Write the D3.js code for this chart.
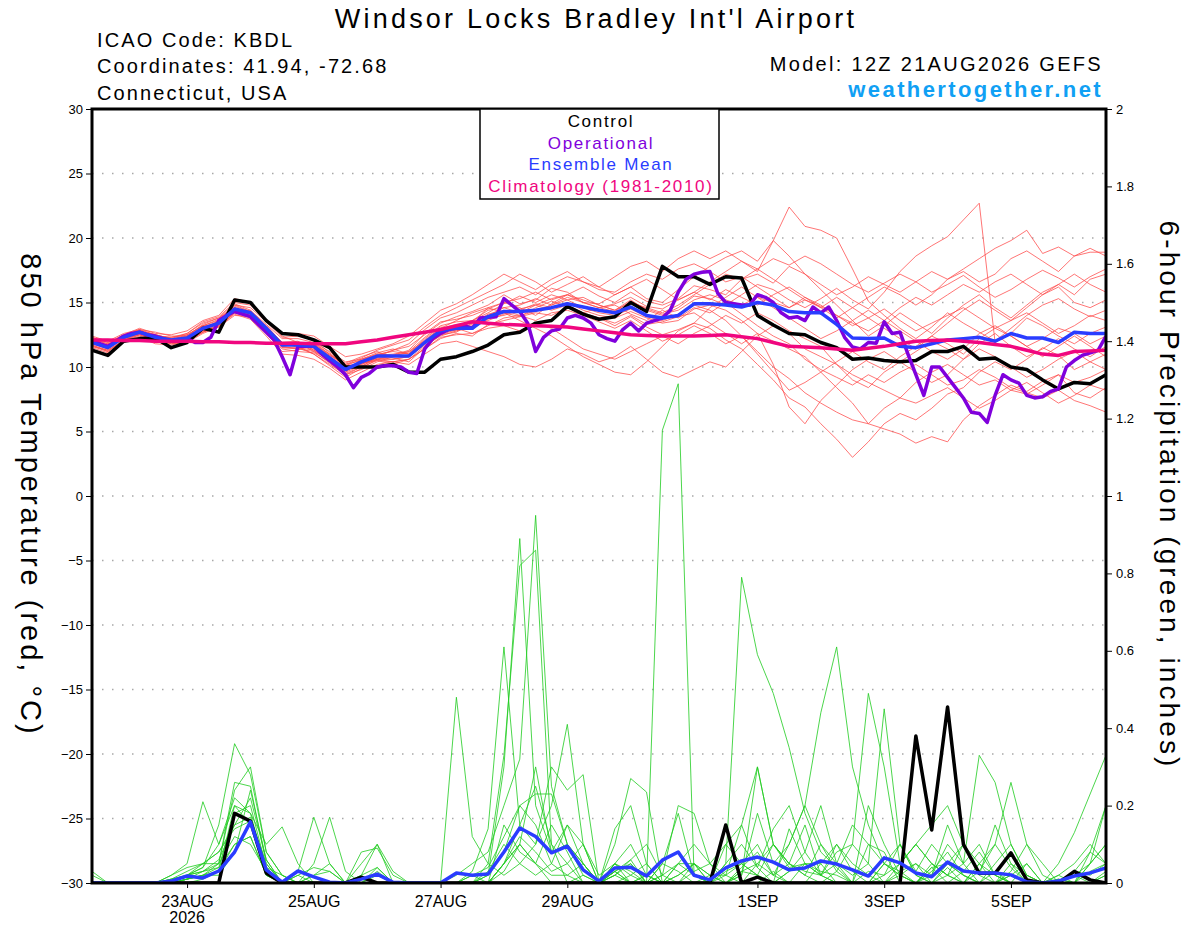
<!DOCTYPE html>
<html>
<head>
<meta charset="utf-8">
<script src="https://cdn.jsdelivr.net/npm/d3@7"></script>
<style>
  body { margin: 0; background: #fff; }
  svg { display: block; font-family: "Liberation Sans", Arial, Helvetica, sans-serif; }
</style>
</head>
<body>
<svg id="chart" width="1200" height="927"></svg>
<script>
// GEFS 12Z 21AUG2026, 6-hourly out to 384h (65 steps), operational is 3-hourly (129 steps)
var runStart = Date.UTC(2026, 7, 21, 12);
var tickDates = [Date.UTC(2026,7,23), Date.UTC(2026,7,25), Date.UTC(2026,7,27), Date.UTC(2026,7,29),
                 Date.UTC(2026,8,1), Date.UTC(2026,8,3), Date.UTC(2026,8,5)];
var tickLabels = ["23AUG", "25AUG", "27AUG", "29AUG", "1SEP", "3SEP", "5SEP"];
var tempTicks = [-30, -25, -20, -15, -10, -5, 0, 5, 10, 15, 20, 25, 30];
var precipTicks = [0, 0.2, 0.4, 0.6, 0.8, 1, 1.2, 1.4, 1.6, 1.8, 2];

// 850 hPa temperature (C)
var controlTemp = [
  11.3,10.9,12.0,12.2,12.25,11.5,11.9,13.0,12.7,15.2,15.0,13.6,12.6,
  12.5,12.1,11.5,10.0,10.0,10.0,10.2,9.6,9.6,10.6,10.8,11.2,11.7,
  12.5,12.7,13.4,13.6,14.7,14.1,13.7,13.9,15.0,14.3,17.8,17.0,17.0,
  16.4,17.0,16.9,14.0,13.25,12.6,12.5,11.9,11.5,10.6,10.7,10.5,10.4,
  10.5,11.2,11.2,11.6,10.6,10.7,10.0,9.8,9.0,8.3,8.8,8.7,9.4];
var meanTemp = [
  11.9,11.5,12.3,12.7,12.3,12.1,12.25,13.0,13.4,14.5,14.2,13.0,11.7,
  11.7,11.6,10.7,9.8,10.4,10.85,10.85,10.85,11.9,12.8,13.0,13.0,13.9,
  14.3,14.3,14.4,14.6,14.9,14.65,14.4,14.2,14.65,14.0,13.8,14.0,14.9,
  14.9,14.8,14.65,15.0,14.8,14.3,14.2,14.2,13.3,12.25,12.2,12.25,11.6,
  11.5,11.8,12.1,12.2,12.3,12.0,12.6,12.25,12.25,11.9,12.7,12.6,12.6];
var climoTemp = [
  12.1,12.1,12.05,12.05,12.0,12.0,12.0,11.95,11.95,11.9,11.9,11.85,11.85,
  11.85,11.8,11.8,11.8,11.95,12.1,12.3,12.5,12.7,12.9,13.2,13.5,13.4,
  13.3,13.25,13.2,13.15,13.1,12.95,12.8,12.65,12.5,12.45,12.4,12.4,12.4,
  12.45,12.5,12.35,12.2,11.9,11.6,11.55,11.5,11.4,11.3,11.45,11.6,11.8,
  12.0,12.05,12.1,12.0,11.9,11.75,11.6,11.3,11.0,10.9,11.2,11.25,11.3];
var operTemp = [
  12.0,11.8,11.6,12.0,12.4,12.6,12.7,12.5,12.4,12.2,12.0,12.1,12.2,
  11.9,11.9,12.3,13.6,14.0,14.3,14.1,13.9,13.3,12.7,12.1,10.8,9.4,
  11.6,11.6,11.6,11.0,10.5,10.0,9.4,8.4,9.2,9.5,10.0,10.1,10.1,
  10.0,9.6,9.5,11.4,12.2,12.6,12.9,13.1,13.2,13.0,13.8,13.85,13.9,
  15.3,14.8,14.3,13.4,11.2,12.3,12.8,12.95,13.8,14.0,13.8,13.4,12.5,
  12.2,12.0,12.9,13.4,12.8,13.4,13.6,13.8,14.4,15.8,16.8,17.2,17.35,
  17.4,15.7,15.0,14.9,14.8,14.8,15.6,15.4,15.0,14.2,13.8,13.9,13.6,
  14.65,14.2,14.65,13.6,12.3,11.55,11.4,11.9,11.85,13.5,12.6,12.7,11.0,
  9.4,7.8,10.0,10.0,9.2,8.4,7.6,6.5,6.4,5.7,7.8,9.4,9.0,
  8.75,7.8,7.6,7.7,8.1,8.3,10.0,10.5,10.9,11.1,11.3,12.4];
var memberTemp = [
  [12.3,11.9,12.5,13.0,12.6,12.5,12.8,13.6,14.0,15.3,15.0,13.6,12.4,
   11.9,11.2,10.3,9.4,10.0,10.8,11.3,11.6,12.5,13.4,13.9,14.3,14.8,
   15.6,14.9,15.2,16.1,15.8,15.0,14.9,15.6,16.2,15.3,15.0,16.0,17.0,
   17.8,18.5,19.0,18.2,19.8,22.4,20.9,20.6,20.0,17.6,15.1,14.0,13.0,
   12.2,13.1,14.2,13.4,12.7,12.0,13.0,14.0,14.8,15.3,14.5,13.9,14.4],
  [11.6,11.3,12.0,12.4,12.0,11.8,11.9,12.6,13.1,14.0,13.9,12.6,11.2,
   11.3,11.9,11.0,10.1,10.3,10.5,10.2,10.6,11.4,12.2,12.6,12.4,13.3,
   13.6,13.9,14.2,14.0,14.6,14.1,13.8,13.2,13.9,13.1,12.5,12.9,13.4,
   13.0,12.1,11.4,10.2,9.0,7.6,6.9,5.6,4.4,3.0,4.2,5.6,6.4,
   5.9,6.8,7.9,8.4,9.6,10.4,9.8,10.6,11.5,10.9,9.8,10.4,11.0],
  [12.0,11.6,12.4,12.9,12.2,12.0,12.2,12.9,13.6,14.8,14.3,12.8,11.5,
   11.4,11.8,10.9,10.3,10.8,11.2,10.7,10.4,11.5,12.5,12.7,13.4,14.6,
   15.0,14.6,14.0,14.9,15.6,15.2,14.8,14.4,15.2,14.4,14.0,14.6,15.5,
   15.3,14.8,15.6,16.4,16.0,15.2,14.6,15.3,16.1,15.2,14.5,15.8,17.4,
   18.6,19.4,20.1,21.4,22.7,11.9,12.6,13.8,13.2,12.4,11.8,12.6,13.1],
  [11.7,11.2,12.1,12.5,12.4,12.3,12.5,13.2,13.3,14.2,13.8,12.7,11.9,
   12.0,11.3,10.5,9.6,10.6,11.1,11.4,11.0,12.2,13.1,13.0,12.6,13.2,
   13.8,14.0,13.6,14.2,14.4,14.0,13.5,13.0,13.6,12.8,12.0,12.5,13.2,
   12.6,11.8,12.4,11.2,10.0,9.1,8.0,7.2,6.5,5.9,5.6,5.2,4.8,
   4.1,4.6,4.2,5.9,7.0,7.8,8.6,8.1,8.9,9.4,8.8,9.2,9.8],
  [12.1,11.8,12.2,12.6,12.1,11.9,12.4,13.3,13.8,14.6,14.0,13.2,11.9,
   11.5,11.0,10.1,9.2,9.9,10.6,10.9,11.3,12.6,13.5,13.7,14.0,14.5,
   15.0,15.3,15.8,15.2,15.6,16.2,15.5,15.0,15.8,15.1,14.8,15.3,16.3,
   16.0,15.6,16.8,17.2,16.5,17.8,17.2,16.4,15.6,16.2,17.0,16.4,15.8,
   16.6,17.4,16.8,17.6,18.4,19.2,19.8,20.6,18.8,19.3,18.6,18.9,18.9],
  [11.8,11.4,12.2,12.8,12.5,12.2,12.1,12.8,13.2,14.3,14.4,13.1,11.6,
   11.8,11.5,10.8,10.0,10.2,10.7,10.6,10.8,11.7,12.4,12.8,13.2,13.6,
   14.1,14.5,14.8,14.4,14.8,14.2,14.6,14.8,14.1,13.6,14.4,13.8,14.6,
   14.2,15.0,14.1,13.2,12.4,11.8,10.6,9.8,9.2,8.6,9.4,8.8,9.6,
   10.2,9.4,8.6,9.0,9.8,9.2,8.4,8.0,7.6,8.2,7.4,7.0,6.5],
  [12.4,12.0,12.6,12.9,12.5,12.2,12.6,13.4,13.8,14.9,14.4,13.3,12.2,
   12.2,11.9,11.2,10.4,10.6,10.9,11.0,11.2,12.3,13.2,13.5,13.6,14.2,
   14.9,15.5,15.0,15.6,15.2,15.4,14.8,14.4,15.0,14.6,14.2,14.8,15.6,
   16.4,17.2,16.8,17.6,18.4,17.9,18.6,18.0,17.2,16.4,15.8,16.5,17.2,
   16.6,15.8,16.4,17.1,16.2,15.4,16.0,16.8,17.5,16.9,16.2,17.0,17.6],
  [11.5,11.1,11.9,12.3,11.8,11.7,12.0,12.7,13.2,14.1,13.7,12.4,11.0,
   10.9,10.6,9.9,9.0,9.6,10.2,10.4,10.6,11.6,12.5,12.9,13.0,13.7,
   14.2,13.9,14.6,15.1,14.7,14.2,13.8,13.4,14.0,13.3,13.5,13.9,14.2,
   13.4,12.6,11.8,12.6,10.2,6.9,5.6,7.4,8.6,9.8,10.6,11.2,10.4,
   9.6,8.8,9.4,10.6,11.4,10.8,10.0,9.2,9.8,10.6,11.2,10.4,9.8],
  [12.0,11.7,12.3,12.6,12.0,12.0,12.3,13.1,13.5,14.4,14.1,12.9,11.8,
   11.6,11.4,10.5,9.6,10.1,10.6,10.6,10.8,11.8,12.9,13.2,13.6,14.4,
   14.6,14.2,14.8,15.3,15.6,15.0,14.6,14.3,15.1,14.5,14.1,14.4,15.2,
   15.6,15.2,14.8,15.4,15.0,14.6,15.2,14.7,14.0,13.2,13.8,14.5,13.6,
   12.8,13.4,14.0,14.6,13.8,13.0,13.6,14.2,13.4,12.6,13.2,14.0,13.6],
  [11.9,11.4,12.3,12.7,12.4,12.2,12.2,12.9,13.4,14.6,14.0,12.8,11.6,
   11.4,11.2,10.6,9.8,10.5,11.0,11.2,11.0,12.0,12.8,12.8,13.1,13.8,
   14.0,14.4,14.9,14.6,15.0,14.4,14.0,13.8,14.3,13.8,13.4,13.6,14.5,
   14.8,14.4,13.6,12.6,12.0,11.4,10.8,9.6,8.4,7.2,5.6,6.8,7.6,
   8.8,9.6,10.2,9.4,8.6,9.0,8.2,7.9,8.6,9.4,8.0,7.6,8.4],
  [12.3,11.9,12.4,12.8,12.3,12.1,12.5,13.2,13.7,14.8,14.6,13.5,12.3,
   12.4,12.1,11.1,10.2,10.5,10.9,11.3,11.8,12.9,13.8,14.2,14.8,15.4,
   15.8,16.2,15.6,16.4,17.0,16.6,16.0,15.8,16.6,17.2,16.8,17.6,18.0,
   17.4,16.6,17.0,16.2,15.4,14.6,15.4,14.8,14.0,13.4,12.8,13.6,14.6,
   15.4,14.8,15.6,16.4,15.8,16.6,17.2,16.4,15.6,16.2,15.0,14.6,15.2],
  [11.6,11.2,12.0,12.5,12.1,11.9,12.0,12.7,13.1,14.2,13.9,12.6,11.4,
   11.2,11.1,10.4,9.5,10.0,10.5,10.4,10.6,11.4,12.3,12.5,12.6,13.0,
   13.2,12.8,13.4,13.0,12.2,11.4,11.0,10.6,11.2,11.8,12.4,11.8,12.6,
   13.2,14.0,13.4,14.2,13.6,12.8,12.2,11.6,10.2,9.0,8.4,9.6,10.4,
   11.2,12.0,11.4,10.6,11.8,12.6,11.6,10.8,11.4,12.2,11.4,10.8,11.6],
  [12.1,11.6,12.4,12.9,12.7,12.4,12.4,13.0,13.5,14.6,14.2,13.0,11.8,
   11.8,11.7,10.9,10.1,10.6,11.0,10.9,11.1,12.1,13.0,13.3,13.4,14.0,
   14.6,14.8,15.3,14.8,15.4,15.0,14.6,14.9,15.4,14.7,14.5,15.2,15.8,
   15.2,16.0,15.4,14.8,15.6,16.2,15.4,14.6,13.8,14.6,15.4,16.2,15.6,
   14.8,15.6,16.8,17.4,16.6,17.2,18.4,19.0,18.2,17.4,18.6,19.2,18.6],
  [11.8,11.5,12.2,12.6,12.2,12.0,12.1,12.8,13.3,14.4,14.0,12.8,11.5,
   11.5,11.3,10.6,9.7,10.2,10.7,10.8,10.9,11.9,12.7,12.9,13.3,14.1,
   14.4,14.0,14.3,14.8,15.2,14.6,14.2,14.0,14.5,13.9,13.6,14.1,14.8,
   14.4,13.6,12.4,11.0,9.6,8.2,8.8,9.6,10.4,11.2,10.4,9.8,10.8,
   11.6,12.4,11.8,11.0,12.2,13.0,12.4,11.6,12.2,13.0,12.6,11.8,12.4],
  [11.7,11.3,12.1,12.6,12.3,12.1,12.3,13.1,13.3,14.3,14.1,12.9,11.7,
   11.9,11.6,10.8,9.9,10.3,10.6,10.4,10.2,11.0,11.8,12.0,11.6,11.2,
   10.8,10.2,10.0,10.6,11.4,11.0,10.4,10.8,11.6,10.6,9.6,9.2,9.8,
   10.4,10.0,11.2,12.4,13.2,12.6,11.4,10.8,10.2,9.4,8.8,8.2,7.6,
   7.2,7.8,8.4,7.6,6.8,7.4,8.2,8.8,8.0,7.2,7.8,8.6,8.2],
  [12.2,11.8,12.5,12.8,12.4,12.3,12.6,13.5,13.9,15.0,14.8,13.7,12.6,
   12.6,12.4,11.6,10.8,11.0,11.4,11.8,12.4,13.4,14.4,14.9,15.6,16.4,
   17.2,16.6,16.0,16.8,17.4,16.6,16.2,17.0,17.8,18.2,17.4,18.4,19.0,
   18.4,19.0,18.2,17.4,19.8,18.6,17.2,16.0,14.8,13.6,12.4,13.2,14.2,
   13.4,12.6,13.8,14.8,15.6,14.6,13.8,14.8,15.8,16.4,15.6,16.8,17.2],
  [11.9,11.6,12.2,12.5,12.1,11.8,12.0,12.7,13.2,14.3,14.2,13.1,11.9,
   11.6,11.0,10.2,9.4,9.8,10.4,10.8,11.2,12.0,13.0,13.6,14.2,14.6,
   14.2,13.6,13.0,12.4,11.6,10.8,10.2,9.6,9.4,10.4,11.6,12.8,13.4,
   14.6,15.4,16.2,15.4,14.6,13.8,13.0,12.2,12.8,13.6,14.4,13.6,12.8,
   12.0,11.2,10.6,11.4,12.6,13.2,12.4,11.6,10.8,11.6,12.4,11.6,10.8],
  [12.0,11.7,12.3,12.8,12.5,12.2,12.4,13.2,13.6,14.7,14.3,13.2,11.9,
   11.9,11.8,11.0,10.2,10.7,11.3,11.7,12.1,13.1,14.0,14.6,15.2,15.8,
   16.4,17.2,16.6,15.8,16.4,17.0,16.2,15.6,16.2,16.8,16.0,15.2,15.8,
   16.6,17.4,18.2,17.6,16.8,16.0,15.2,14.6,15.4,14.6,13.8,13.0,12.2,
   11.4,12.4,13.4,14.4,15.2,14.4,13.6,14.6,15.6,16.4,17.2,16.4,15.8]
];

// 6-hour precipitation (inches)
var controlPrecip = [
  0,0,0,0,0,0,0,0,0,0.18,0.16,0.026,0,
  0,0,0,0,0.015,0,0,0,0,0,0,0,0,
  0,0,0,0,0,0,0,0,0,0,0,0,0,
  0,0.15,0,0.015,0,0,0,0,0,0,0,0,0,
  0.38,0.137,0.455,0.10,0.025,0.025,0.078,0.008,0,0,0.03,0.008,0];
var meanPrecip = [
  0,0,0,0,0,0.005,0.018,0.013,0.031,0.08,0.158,0.034,0.002,
  0.031,0.016,0.002,0,0.01,0.023,0.002,0,0,0,0.026,0.02,0.023,
  0.08,0.142,0.12,0.078,0.095,0.034,0.005,0.039,0.041,0.018,0.059,0.08,0.02,
  0.008,0.039,0.057,0.067,0.054,0.034,0.039,0.057,0.049,0.034,0.018,0.065,0.052,
  0.026,0.016,0.054,0.031,0.026,0.026,0.021,0.003,0,0.005,0.018,0.026,0.039];
var memberPrecip = [
  [0,0,0,0,0,0.01,0.03,0.05,0.08,0.15,0.22,0.06,0,
   0,0.02,0.05,0,0,0.03,0,0,0,0,0,0.02,0.04,
   0.12,0.2,0.15,0.05,0.02,0,0,0.03,0.05,0,1.17,1.29,0.02,
   0,0,0.04,0.08,0.02,0,0,0.05,0.1,0.03,0,0,0.02,
   0.05,0,0,0.03,0.08,0.02,0,0,0,0,0.02,0.05,0.1],
  [0.03,0,0,0,0,0.02,0.05,0.21,0.1,0.2,0.15,0.04,0,
   0.02,0,0,0,0,0,0,0,0,0,0.02,0.05,0.08,
   0.2,0.32,0.95,0.25,0.1,0.02,0,0,0.02,0.05,0,0,0,
   0,0.05,0.1,0.04,0,0.03,0.08,0.2,0.05,0,0,0.02,0.1,
   0.02,0,0.04,0,0,0.05,0.1,0.02,0,0,0,0.03,0.05],
  [0,0,0,0,0,0,0.02,0.04,0.15,0.36,0.28,0.08,0.02,
   0,0,0,0,0,0,0,0,0,0,0,0,0.02,
   0.3,0.89,0.2,0.08,0.15,0.05,0,0.02,0.06,0.1,0.02,0,0.03,
   0.05,0.02,0.15,0.3,0.1,0.05,0.02,0,0.03,0.1,0.05,0,0,
   0,0.03,0.08,0.02,0,0,0.05,0.02,0,0,0,0.08,0.2],
  [0,0,0,0,0,0.01,0.02,0.03,0.05,0.26,0.25,0.05,0,
   0.03,0.17,0.05,0,0.02,0.1,0.03,0,0,0,0,0,0.05,
   0.33,0.82,0.86,0.1,0.05,0,0,0.02,0,0,0.05,0.03,0,
   0.02,0,0,0.05,0.02,0.1,0.2,0.1,0.03,0,0,0.05,0.02,
   0,0.02,0.1,0.05,0,0,0.02,0,0,0.01,0,0,0.02],
  [0,0,0,0,0,0,0.01,0.02,0.03,0.2,0.18,0.1,0.145,
   0.05,0,0,0,0,0,0,0,0,0,0,0.03,0.14,
   0.61,0.15,0.1,0.2,0.41,0.1,0,0.05,0.02,0,0,0.02,0.05,
   0.02,0,0.03,0.02,0,0.14,0.05,0.05,0,0,0.2,0.1,0.02,
   0,0.05,0.02,0,0.03,0.1,0.26,0.1,0.02,0,0,0,0],
  [0,0,0,0,0,0.02,0.04,0.05,0.05,0.12,0.1,0.03,0,
   0,0,0,0,0.05,0.1,0,0,0,0,0.48,0.12,0.05,
   0.02,0.05,0.1,0.3,0.24,0.28,0,0.1,0.27,0.235,0,0,0.05,
   0,0.02,0,0,0.03,0,0.05,0.02,0,0,0,0,0.03,
   0,0,0.02,0,0.05,0.02,0,0,0,0.02,0.05,0.1,0.05],
  [0,0,0,0,0,0,0,0.01,0.03,0.1,0.12,0.02,0,
   0,0,0,0,0,0,0,0,0,0,0,0,0,
   0.05,0.1,0.05,0,0,0.02,0,0.03,0,0,0.05,0.18,0.02,
   0,0.05,0.79,0.59,0.49,0.35,0.18,0.08,0.04,0,0,0.05,0.02,
   0,0.04,0,0,0.05,0.1,0.04,0,0,0,0.03,0.08,0.05],
  [0,0,0,0,0,0,0.01,0.02,0.04,0.18,0.2,0.04,0.02,
   0,0.05,0.17,0.03,0,0.04,0,0,0,0,0,0,0,
   0.05,0.15,0.25,0.1,0,0,0,0.05,0.03,0,0.02,0.05,0.1,
   0.05,0,0.02,0.18,0.05,0.1,0.2,0.44,0.61,0.3,0.15,0.05,0.1,
   0.02,0,0.05,0.02,0,0,0.03,0.1,0.05,0,0.02,0,0],
  [0.02,0,0,0,0,0,0.01,0.03,0.06,0.15,0.17,0.05,0,
   0,0,0,0,0,0,0,0,0,0,0,0,0.02,
   0.08,0.2,0.23,0.23,0.1,0.05,0,0.03,0,0.02,0,0,0,
   0,0.03,0.05,0.1,0.02,0.05,0.02,0.1,0.05,0.02,0.05,0.45,0.1,
   0.03,0.1,0.05,0.02,0,0.03,0,0,0,0,0,0,0.02],
  [0,0,0,0,0,0,0.02,0.05,0.08,0.14,0.16,0.02,0,
   0,0,0,0,0,0,0,0,0,0,0,0,0,
   0.15,0.08,0.05,0.02,0.02,0.05,0,0.14,0.2,0.05,0,0.05,0.02,
   0,0.1,0.05,0.02,0,0.03,0.05,0.02,0.08,0.1,0.49,0.3,0.05,
   0.1,0.15,0.2,0.1,0.02,0,0,0.05,0,0,0,0.05,0.1],
  [0,0,0,0,0,0,0.02,0.04,0.1,0.22,0.18,0.03,0,
   0,0,0,0,0,0.02,0,0,0,0,0,0,0,
   0.03,0.1,0.05,0.15,0.08,0,0,0.05,0.1,0.02,0,0,0,
   0,0,0.02,0.3,0.1,0.05,0.15,0.02,0,0,0.03,0.02,0.05,
   0.1,0.05,0.02,0.05,0.33,0.26,0.1,0.02,0,0.05,0.13,0.23,0.33],
  [0,0,0,0,0,0,0.01,0.02,0.05,0.24,0.3,0.08,0.02,
   0,0,0,0,0,0,0,0,0,0,0,0,0.03,
   0.1,0.05,0.02,0.05,0.15,0.1,0,0.02,0.05,0,0.02,0.2,0.18,
   0.05,0.1,0.15,0.04,0.14,0.2,0.08,0.02,0.05,0.15,0.1,0.05,0.03,
   0.05,0.02,0.15,0.05,0.1,0.02,0,0,0,0,0.03,0.02,0.05],
  [0,0,0,0,0,0.01,0.02,0.03,0.04,0.1,0.12,0.02,0,
   0.02,0.04,0.03,0,0.08,0.09,0.02,0,0,0,0,0.02,0,
   0.05,0.12,0.08,0.03,0.05,0.1,0.02,0.05,0,0.02,0,0.02,0.05,
   0.02,0.02,0.05,0.02,0.1,0.05,0.03,0.02,0.1,0.05,0.02,0,0.05,
   0.1,0.05,0.02,0.1,0.05,0,0.02,0.05,0,0.01,0,0.05,0.2],
  [0,0,0,0,0,0,0.01,0.02,0.02,0.08,0.24,0.06,0,
   0,0.02,0.03,0,0.02,0.04,0,0,0,0,0,0,0,
   0.05,0.1,0.3,0.08,0.1,0.05,0,0.03,0.06,0,0,0.05,0.05,
   0,0,0.03,0.05,0.1,0.04,0.05,0.03,0.02,0,0.1,0.08,0,
   0,0.04,0.05,0.1,0.02,0.15,0.05,0,0,0.02,0,0,0.03]
];

(function() {
  var svg = d3.select("#chart");
  var pL = 92, pR = 1106, pT = 109, pB = 883;

  var t6 = function(i) { return new Date(runStart + i * 6 * 3600e3); };
  var t3 = function(i) { return new Date(runStart + i * 3 * 3600e3); };

  var x = d3.scaleUtc().domain([t6(0), t6(64)]).range([pL, pR]);
  var yT = d3.scaleLinear().domain([-30, 30]).range([pB, pT]);
  var yP = d3.scaleLinear().domain([0, 2]).range([pB, pT]);

  svg.append("defs").append("clipPath").attr("id", "plotclip")
    .append("rect").attr("x", pL).attr("y", pT).attr("width", pR - pL).attr("height", pB - pT);

  // dotted grid at the temperature ticks
  svg.append("g").selectAll("line")
    .data(tempTicks.filter(function(d) { return d > -30 && d < 30; }))
    .enter().append("line")
      .attr("x1", pL).attr("x2", pR)
      .attr("y1", function(d) { return yT(d); }).attr("y2", function(d) { return yT(d); })
      .attr("stroke", "#a8a8a8").attr("stroke-width", 1.3).attr("stroke-dasharray", "1.5,8.5");

  var plot = svg.append("g").attr("clip-path", "url(#plotclip)");

  var line6T = d3.line().x(function(d, i) { return x(t6(i)); }).y(function(d) { return yT(d); });
  var line3T = d3.line().x(function(d, i) { return x(t3(i)); }).y(function(d) { return yT(d); });
  var line6P = d3.line().x(function(d, i) { return x(t6(i)); }).y(function(d) { return yP(d); });

  plot.selectAll(".mt").data(memberTemp).enter().append("path")
    .attr("d", line6T).attr("fill", "none").attr("stroke", "#ff4a4a").attr("stroke-opacity", 0.85).attr("stroke-width", 0.9);
  plot.selectAll(".mp").data(memberPrecip).enter().append("path")
    .attr("d", line6P).attr("fill", "none").attr("stroke", "#22cc22").attr("stroke-opacity", 0.9).attr("stroke-width", 0.9);

  var thick = 3.5;
  function bold(d, col) {
    plot.append("path").attr("d", d).attr("fill", "none").attr("stroke", col)
      .attr("stroke-width", thick).attr("stroke-linejoin", "round");
  }
  bold(line6P(controlPrecip), "#000");
  bold(line6P(meanPrecip), "#2a3cff");
  bold(line6T(controlTemp), "#000");
  bold(line3T(operTemp), "#8000dc");
  bold(line6T(meanTemp), "#2a3cff");
  bold(line6T(climoTemp), "#f0067f");

  // axes
  var axL = svg.append("g").attr("transform", "translate(" + pL + ",0)")
    .call(d3.axisLeft(yT).tickValues(tempTicks).tickSize(6).tickPadding(3));
  var axR = svg.append("g").attr("transform", "translate(" + pR + ",0)")
    .call(d3.axisRight(yP).tickValues(precipTicks).tickSize(6).tickPadding(4)
      .tickFormat(function(d) { return String(+d.toFixed(1)); }));
  var axB = svg.append("g").attr("transform", "translate(0," + pB + ")")
    .call(d3.axisBottom(x).tickValues(tickDates.map(function(d) { return new Date(d); })).tickSize(5).tickPadding(8)
      .tickFormat(function(d, i) { return tickLabels[i]; }));
  [axL, axR, axB].forEach(function(a) {
    a.select(".domain").remove();
    a.selectAll("line").attr("stroke", "#000");
    a.selectAll("text").attr("fill", "#000").style("font-family", "Liberation Sans, Arial, sans-serif");
  });
  axL.selectAll("text").style("font-size", "13px");
  axR.selectAll("text").style("font-size", "13px");
  axB.selectAll("text").style("font-size", "16px");
  svg.append("text").attr("x", x(new Date(tickDates[0]))).attr("y", 923).attr("text-anchor", "middle")
    .style("font-size", "16px").text("2026");

  // frame
  svg.append("rect").attr("x", pL).attr("y", pT).attr("width", pR - pL).attr("height", pB - pT)
    .attr("fill", "none").attr("stroke", "#000").attr("stroke-width", 3);

  // legend
  var lg = svg.append("g");
  lg.append("rect").attr("x", 480).attr("y", pT).attr("width", 239).attr("height", 90)
    .attr("fill", "#fff").attr("stroke", "#000").attr("stroke-width", 1.5);
  var legendItems = [["Control", "#000"], ["Operational", "#8000dc"], ["Ensemble Mean", "#2a3cff"], ["Climatology (1981-2010)", "#f0067f"]];
  lg.selectAll("text").data(legendItems).enter().append("text")
    .attr("x", 601).attr("y", function(d, i) { return 127 + i * 21.7; })
    .attr("text-anchor", "middle").attr("fill", function(d) { return d[1]; })
    .style("font-size", "17px").style("letter-spacing", "1.7px").text(function(d) { return d[0]; });

  // titles
  svg.append("text").attr("x", 596).attr("y", 28).attr("text-anchor", "middle").style("font-size", "27px")
    .style("letter-spacing", "3.2px").text("Windsor Locks Bradley Int'l Airport");
  var info = ["ICAO Code: KBDL", "Coordinates: 41.94, -72.68", "Connecticut, USA"];
  svg.selectAll(".info").data(info).enter().append("text")
    .attr("x", 97).attr("y", function(d, i) { return 47 + i * 26.3; })
    .style("font-size", "20px").style("letter-spacing", "2.1px").text(function(d) { return d; });
  svg.append("text").attr("x", 1103).attr("y", 71).attr("text-anchor", "end").style("font-size", "20px")
    .style("letter-spacing", "2.3px").text("Model: 12Z 21AUG2026 GEFS");
  svg.append("text").attr("x", 1103).attr("y", 97).attr("text-anchor", "end").style("font-size", "22px")
    .style("letter-spacing", "2.4px").style("font-weight", "bold").attr("fill", "#10a0f4").text("weathertogether.net");

  svg.append("text").attr("transform", "translate(21,495) rotate(90)").attr("text-anchor", "middle")
    .style("font-size", "29px").style("letter-spacing", "3px").text("850 hPa Temperature (red, °C)");
  svg.append("text").attr("transform", "translate(1160,495) rotate(90)").attr("text-anchor", "middle")
    .style("font-size", "28px").style("letter-spacing", "3.1px").text("6-hour Precipitation (green, inches)");
})();
</script>
</body>
</html>
